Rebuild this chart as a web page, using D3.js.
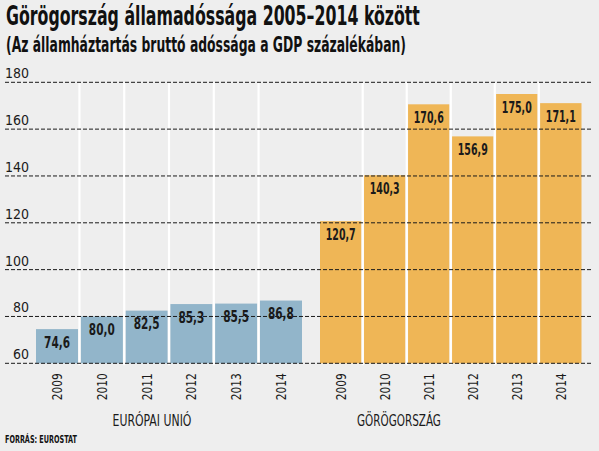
<!DOCTYPE html>
<html><head><meta charset="utf-8">
<script src="https://cdn.jsdelivr.net/npm/d3@7"></script>
<style>
html,body{margin:0;padding:0;background:#eeeeee;}
svg{display:block;}
</style></head>
<body>
<script>
const years = ["2009","2010","2011","2012","2013","2014"];
const euValues = [74.6, 80.0, 82.5, 85.3, 85.5, 86.8];
const grValues = [120.7, 140.3, 170.6, 156.9, 175.0, 171.1];
const groupLabels = ["EURÓPAI UNIÓ", "GÖRÖGORSZÁG"];
const yTicks = [60, 80, 100, 120, 140, 160, 180];
const title = "Görögország államadóssága 2005–2014 között";
const subtitle = "(Az államháztartás bruttó adóssága a GDP százalékában)";
const source = "FORRÁS: EUROSTAT";

const W = 599, H = 451;
const cond = "'DejaVu Sans Condensed','Liberation Sans Narrow',sans-serif";
const svg = d3.select("body").append("svg").attr("width", W).attr("height", H);
svg.append("rect").attr("width", W).attr("height", H).attr("fill", "#eeeeee");

// squeeze a text horizontally to a target width (keeps glyph height)
function squeeze(sel, x, yb, width, anchor) {
  sel.attr("x", 0).attr("y", 0);
  const natural = sel.node().getComputedTextLength();
  const sx = Math.min(1, width / natural);
  sel.attr("text-anchor", anchor || "start")
     .attr("transform", `translate(${x},${yb}) scale(${sx},1)`);
}

const y = d3.scaleLinear().domain([60, 180]).range([363.3, 82.3]);
const xEU = d3.scaleBand().domain(years).range([36, 302]).paddingInner(0.06).paddingOuter(0);
const xGR = d3.scaleBand().domain(years).range([320, 581.5]).paddingInner(0.06).paddingOuter(0);

const groups = [
  {x: xEU, values: euValues, color: "#92b5ca", label: groupLabels[0], lx: 152, lw: 79},
  {x: xGR, values: grValues, color: "#efb656", label: groupLabels[1], lx: 399, lw: 84}
];

squeeze(svg.append("text").text(title)
  .attr("font-family", cond).attr("font-weight", "bold").attr("font-size", 27).attr("fill", "#111"),
  6, 25, 414);
squeeze(svg.append("text").text(subtitle)
  .attr("font-family", cond).attr("font-weight", "bold").attr("font-size", 21).attr("fill", "#111"),
  6, 52, 400);

groups.forEach(g => {
  const step = g.x.step();
  svg.append("g").selectAll("rect").data(g.values).join("rect")
    .attr("x", (d, i) => g.x(years[i]))
    .attr("width", g.x.bandwidth())
    .attr("y", d => y(d))
    .attr("height", d => y(60) - y(d))
    .attr("fill", g.color);
  svg.append("g").selectAll("line").data(years.slice(1)).join("line")
    .attr("x1", d => g.x(d) - (step - g.x.bandwidth()) / 2)
    .attr("x2", d => g.x(d) - (step - g.x.bandwidth()) / 2)
    .attr("y1", y(180)).attr("y2", y(60) + 2)
    .attr("stroke", "#ffffff").attr("stroke-width", 2.2);
  svg.append("g").selectAll("text").data(g.values).join("text")
    .attr("font-family", cond).attr("font-weight", "bold").attr("font-size", 15).attr("fill", "#1a1a1a")
    .text(d => d.toFixed(1).replace(".", ","))
    .each(function(d, i) {
      squeeze(d3.select(this), g.x(years[i]) + g.x.bandwidth() / 2, y(d) + 18.5, d >= 100 ? 30 : 26, "middle");
    });
  const ax = d3.axisBottom(g.x).tickSize(0).tickPadding(0);
  const axg = svg.append("g").attr("transform", `translate(0,${y(60)})`).call(ax);
  axg.select(".domain").remove();
  axg.selectAll("text")
    .attr("font-family", cond).attr("font-size", 14).attr("fill", "#1a1a1a")
    .attr("text-anchor", "middle").attr("dy", "0.35em")
    .each(function() {
      const t = d3.select(this);
      t.attr("x", 0).attr("y", 0);
      const natural = this.getComputedTextLength();
      t.attr("transform", `translate(0,23.5) rotate(-90) scale(${Math.min(1, 27 / natural)},1)`);
    });
  squeeze(svg.append("text").text(g.label)
    .attr("font-family", cond).attr("font-size", 16).attr("fill", "#1a1a1a"),
    g.lx - g.lw / 2, 426, g.lw);
});

svg.append("g").selectAll("line").data(yTicks).join("line")
  .attr("x1", 5).attr("x2", 593)
  .attr("y1", d => y(d)).attr("y2", d => y(d))
  .attr("stroke", "#1a1a1a").attr("stroke-width", 1).attr("stroke-dasharray", "4,2");

svg.append("g").selectAll("text").data(yTicks).join("text")
  .attr("x", 29).attr("y", d => y(d) - 4).attr("text-anchor", "end")
  .attr("font-family", cond).attr("font-size", 14).attr("fill", "#1a1a1a").text(d => d);

squeeze(svg.append("text").text(source)
  .attr("font-family", cond).attr("font-weight", "bold").attr("font-size", 11).attr("fill", "#111"),
  5, 443, 72);
</script>
</body></html>
